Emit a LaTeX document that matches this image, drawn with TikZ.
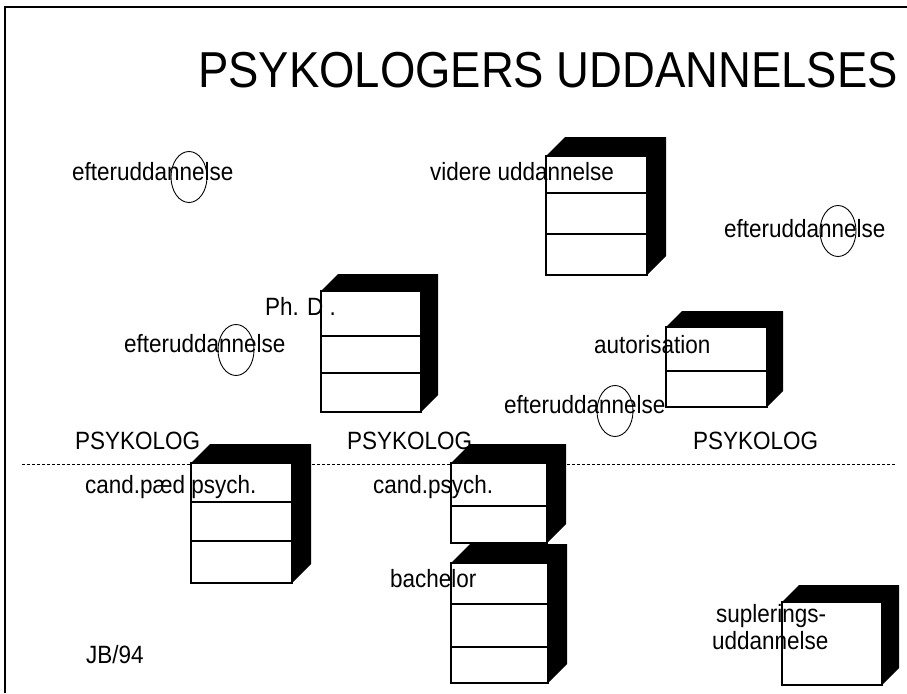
\documentclass[tikz,border=0pt]{standalone}
\usepackage{fontspec}
\setmainfont{Liberation Sans}[FakeStretch=0.9]
\usetikzlibrary{shapes.geometric}
\tikzset{
  lbl/.style={anchor=base west, inner sep=0pt, outer sep=0pt, font=\fontsize{25}{30}\selectfont},
  front/.style={draw=black, fill=white, line width=1.3pt, inner sep=0pt, outer sep=0pt, rectangle, anchor=north west},
  divider/.style={line width=1.1pt},
  ring/.style={ellipse, draw=black, line width=0.9pt, inner sep=0pt, minimum width=36pt, minimum height=51pt},
  frame/.style={line width=1.6pt},
}
% #1 name, #2 x, #3 y (top-left of front face), #4 width, #5 height, #6 depth
\newcommand\cubebox[6]{%
  \fill[black] (#2,#3) -- ++(#6,-#6) -- ++(#4,0) -- ++(0,#5) -- ++(-#6,#6) -- ++(0,-#5) -- cycle;
  \node[front, minimum width=#4, minimum height=#5] (#1) at (#2,#3) {};
}
\newcommand\divline[2]{\draw[divider] (#1.west |- 0,#2) -- (#1.east |- 0,#2);}
\begin{document}
\begin{tikzpicture}[x=1pt, y=-1pt]
\useasboundingbox (0,0) rectangle (907,693);
% frame
\coordinate (fbl) at (5,693);
\coordinate (ftl) at (5,7);
\coordinate (ftr) at (907,7);
\draw[frame] (fbl) -- (ftl) -- (ftr);
% title
\node[anchor=base west, inner sep=0pt, font=\fontsize{50.5}{60}\selectfont] (title) at (198,88) {PSYKOLOGERS UDDANNELSES};
% dashed separator
\coordinate (dl) at (22,464);
\coordinate (dr) at (895,464);
\draw[line width=0.8pt, dash pattern=on 3pt off 2pt] (dl) -- (dr);
% labels drawn under the boxes
\node[lbl] (psy1) at (75,449) {PSYKOLOG};
\node[lbl] (psy2) at (347,449) {PSYKOLOG};
\node[lbl] (psy3) at (693,449) {PSYKOLOG};
% boxes
\cubebox{videre}{546}{156}{101}{119}{19}
\divline{videre}{193}
\divline{videre}{234}
\cubebox{phd}{321}{291}{100}{121}{17}
\divline{phd}{336}
\divline{phd}{373}
\cubebox{autor}{666}{327}{101}{80}{16}
\divline{autor}{371}
\cubebox{candpaed}{191}{463}{101}{120}{19}
\divline{candpaed}{502}
\divline{candpaed}{541}
\cubebox{candpsych}{451}{463}{96}{80}{19}
\divline{candpsych}{506}
\cubebox{bachelor}{451}{563}{97}{120}{19}
\divline{bachelor}{604}
\divline{bachelor}{647}
\cubebox{supl}{782}{602}{100}{83}{17}
% labels
\node[lbl] (ef1) at (72,180) {efteruddannelse};
\node[lbl] (vid) at (430,180) {videre uddannelse};
\node[lbl] (ef2) at (724,237) {efteruddannelse};
\node[lbl] (phdt) at (265,315) {Ph. D .};
\node[lbl] (ef3) at (124,352) {efteruddannelse};
\node[lbl] (aut) at (594,353) {autorisation};
\node[lbl] (ef4) at (504,413) {efteruddannelse};
\node[lbl] (cpd) at (85,493) {cand.pæd psych.};
\node[lbl] (cps) at (373,493) {cand.psych.};
\node[lbl] (bach) at (390,587) {bachelor};
\node[lbl] (supt1) at (716,622) {suplerings-};
\node[lbl] (supt2) at (712,649) {uddannelse};
\node[lbl] (jb) at (86,663) {JB/94};
% rings
\node[ring] (r1) at (189,177) {};
\node[ring] (r2) at (236,350) {};
\node[ring] (r3) at (615,411) {};
\node[ring] (r4) at (838,231) {};
\end{tikzpicture}
\end{document}
